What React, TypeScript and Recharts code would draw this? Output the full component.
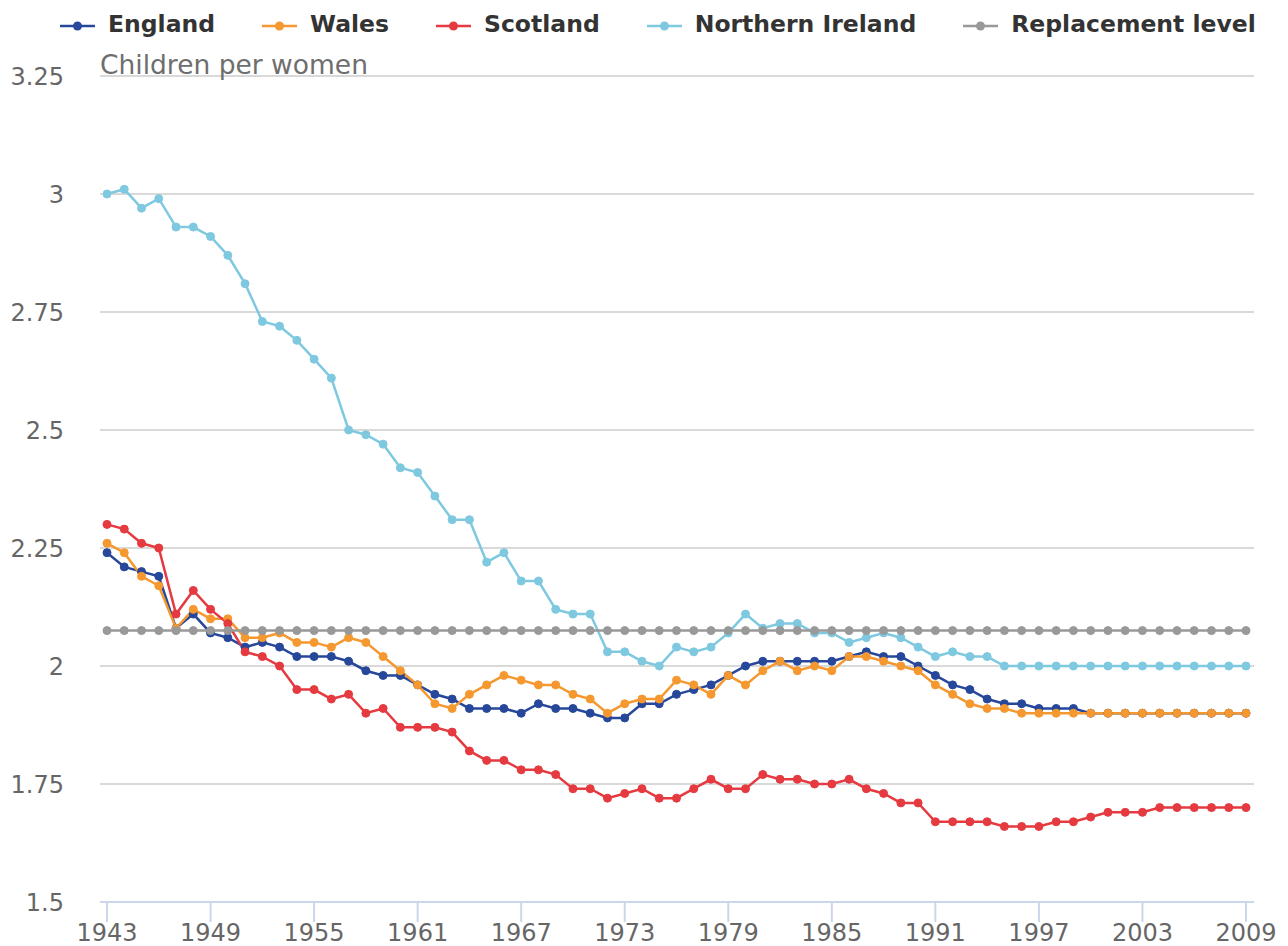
import React from "react";
import { LineChart, Line, XAxis, YAxis, CartesianGrid } from "recharts";

const years = [
  1943, 1944, 1945, 1946, 1947, 1948, 1949, 1950, 1951, 1952, 1953, 1954, 1955, 1956, 1957, 1958, 1959,
  1960, 1961, 1962, 1963, 1964, 1965, 1966, 1967, 1968, 1969, 1970, 1971, 1972, 1973, 1974, 1975, 1976,
  1977, 1978, 1979, 1980, 1981, 1982, 1983, 1984, 1985, 1986, 1987, 1988, 1989, 1990, 1991, 1992, 1993,
  1994, 1995, 1996, 1997, 1998, 1999, 2000, 2001, 2002, 2003, 2004, 2005, 2006, 2007, 2008, 2009,
];

const england = [
  2.24, 2.21, 2.2, 2.19, 2.08, 2.11, 2.07, 2.06, 2.04, 2.05, 2.04, 2.02, 2.02, 2.02, 2.01, 1.99, 1.98,
  1.98, 1.96, 1.94, 1.93, 1.91, 1.91, 1.91, 1.9, 1.92, 1.91, 1.91, 1.9, 1.89, 1.89, 1.92, 1.92, 1.94,
  1.95, 1.96, 1.98, 2.0, 2.01, 2.01, 2.01, 2.01, 2.01, 2.02, 2.03, 2.02, 2.02, 2.0, 1.98, 1.96, 1.95,
  1.93, 1.92, 1.92, 1.91, 1.91, 1.91, 1.9, 1.9, 1.9, 1.9, 1.9, 1.9, 1.9, 1.9, 1.9, 1.9,
];

const wales = [
  2.26, 2.24, 2.19, 2.17, 2.08, 2.12, 2.1, 2.1, 2.06, 2.06, 2.07, 2.05, 2.05, 2.04, 2.06, 2.05, 2.02,
  1.99, 1.96, 1.92, 1.91, 1.94, 1.96, 1.98, 1.97, 1.96, 1.96, 1.94, 1.93, 1.9, 1.92, 1.93, 1.93, 1.97,
  1.96, 1.94, 1.98, 1.96, 1.99, 2.01, 1.99, 2.0, 1.99, 2.02, 2.02, 2.01, 2.0, 1.99, 1.96, 1.94, 1.92,
  1.91, 1.91, 1.9, 1.9, 1.9, 1.9, 1.9, 1.9, 1.9, 1.9, 1.9, 1.9, 1.9, 1.9, 1.9, 1.9,
];

const scotland = [
  2.3, 2.29, 2.26, 2.25, 2.11, 2.16, 2.12, 2.09, 2.03, 2.02, 2.0, 1.95, 1.95, 1.93, 1.94, 1.9, 1.91,
  1.87, 1.87, 1.87, 1.86, 1.82, 1.8, 1.8, 1.78, 1.78, 1.77, 1.74, 1.74, 1.72, 1.73, 1.74, 1.72, 1.72,
  1.74, 1.76, 1.74, 1.74, 1.77, 1.76, 1.76, 1.75, 1.75, 1.76, 1.74, 1.73, 1.71, 1.71, 1.67, 1.67, 1.67,
  1.67, 1.66, 1.66, 1.66, 1.67, 1.67, 1.68, 1.69, 1.69, 1.69, 1.7, 1.7, 1.7, 1.7, 1.7, 1.7,
];

const northernIreland = [
  3.0, 3.01, 2.97, 2.99, 2.93, 2.93, 2.91, 2.87, 2.81, 2.73, 2.72, 2.69, 2.65, 2.61, 2.5, 2.49, 2.47,
  2.42, 2.41, 2.36, 2.31, 2.31, 2.22, 2.24, 2.18, 2.18, 2.12, 2.11, 2.11, 2.03, 2.03, 2.01, 2.0, 2.04,
  2.03, 2.04, 2.07, 2.11, 2.08, 2.09, 2.09, 2.07, 2.07, 2.05, 2.06, 2.07, 2.06, 2.04, 2.02, 2.03, 2.02,
  2.02, 2.0, 2.0, 2.0, 2.0, 2.0, 2.0, 2.0, 2.0, 2.0, 2.0, 2.0, 2.0, 2.0, 2.0, 2.0,
];

const replacement = [
  2.075, 2.075, 2.075, 2.075, 2.075, 2.075, 2.075, 2.075, 2.075, 2.075, 2.075, 2.075, 2.075, 2.075, 2.075, 2.075, 2.075,
  2.075, 2.075, 2.075, 2.075, 2.075, 2.075, 2.075, 2.075, 2.075, 2.075, 2.075, 2.075, 2.075, 2.075, 2.075, 2.075, 2.075,
  2.075, 2.075, 2.075, 2.075, 2.075, 2.075, 2.075, 2.075, 2.075, 2.075, 2.075, 2.075, 2.075, 2.075, 2.075, 2.075, 2.075,
  2.075, 2.075, 2.075, 2.075, 2.075, 2.075, 2.075, 2.075, 2.075, 2.075, 2.075, 2.075, 2.075, 2.075, 2.075, 2.075,
];

const xTicks = [1943, 1949, 1955, 1961, 1967, 1973, 1979, 1985, 1991, 1997, 2003, 2009];
const yTicks = [1.5, 1.75, 2, 2.25, 2.5, 2.75, 3, 3.25];

const series = [
  { key: "england", name: "England", color: "#27479a" },
  { key: "wales", name: "Wales", color: "#f5982f" },
  { key: "scotland", name: "Scotland", color: "#e53a40" },
  { key: "ni", name: "Northern Ireland", color: "#7ec9e0" },
  { key: "replacement", name: "Replacement level", color: "#999999" },
];

const data = years.map((year, i) => ({
  year,
  england: england[i],
  wales: wales[i],
  scotland: scotland[i],
  ni: northernIreland[i],
  replacement: replacement[i],
}));

const font = "'DejaVu Sans', sans-serif";

function ChartLegend() {
  return (
    <div
      style={{
        position: "absolute",
        top: 0,
        left: 0,
        width: 1288,
        height: 47,
        paddingLeft: 60,
        boxSizing: "border-box",
        display: "flex",
        alignItems: "center",
        whiteSpace: "nowrap",
        fontFamily: font,
      }}
    >
      {series.map((s) => (
        <div
          key={s.key}
          style={{ display: "flex", alignItems: "center", marginRight: 47, flexShrink: 0 }}
        >
          <svg width={35} height={12} style={{ marginRight: 13, marginTop: 4, flexShrink: 0 }}>
            <line x1={0} y1={6} x2={35} y2={6} stroke={s.color} strokeWidth={2.5} />
            <circle cx={17.5} cy={6} r={4.5} fill={s.color} />
          </svg>
          <span style={{ fontWeight: "bold", fontSize: 23.5, color: "#333" }}>{s.name}</span>
        </div>
      ))}
    </div>
  );
}

export default function App() {
  return (
    <div
      style={{
        position: "absolute",
        left: 0,
        top: 0,
        width: 1288,
        height: 946,
        background: "#fff",
        fontFamily: font,
      }}
    >
      <LineChart
        width={1288}
        height={946}
        data={data}
        margin={{ top: 76, right: 34, left: 0, bottom: 0 }}
        style={{ fontFamily: font }}
      >
        <CartesianGrid vertical={false} stroke="#d9d9d9" strokeWidth={2} />
        <XAxis
          dataKey="year"
          type="number"
          domain={[1943, 2009]}
          ticks={xTicks}
          interval={0}
          padding={{ left: 7, right: 8 }}
          height={44}
          tickSize={20}
          tickMargin={2}
          stroke="#ccd6eb"
          strokeWidth={2}
          tick={{ fill: "#666", fontSize: 24 }}
        />
        <YAxis
          domain={[1.5, 3.25]}
          ticks={yTicks}
          interval={0}
          width={100}
          axisLine={false}
          tickLine={false}
          tickSize={0}
          tickMargin={36}
          tick={{ fill: "#666", fontSize: 24 }}
        />
        {series.map((s) => (
          <Line
            key={s.key}
            dataKey={s.key}
            name={s.name}
            type="linear"
            stroke={s.color}
            strokeWidth={2.5}
            dot={{ r: 4, fill: s.color, stroke: s.color, strokeWidth: 1 }}
            activeDot={false}
            isAnimationActive={false}
          />
        ))}
      </LineChart>
      <svg
        width={400}
        height={90}
        style={{ position: "absolute", left: 0, top: 0, pointerEvents: "none" }}
      >
        <text x={100} y={74} fill="#6e6e6e" fontSize={26.5} fontFamily={font}>
          Children per women
        </text>
      </svg>
      <ChartLegend />
    </div>
  );
}
